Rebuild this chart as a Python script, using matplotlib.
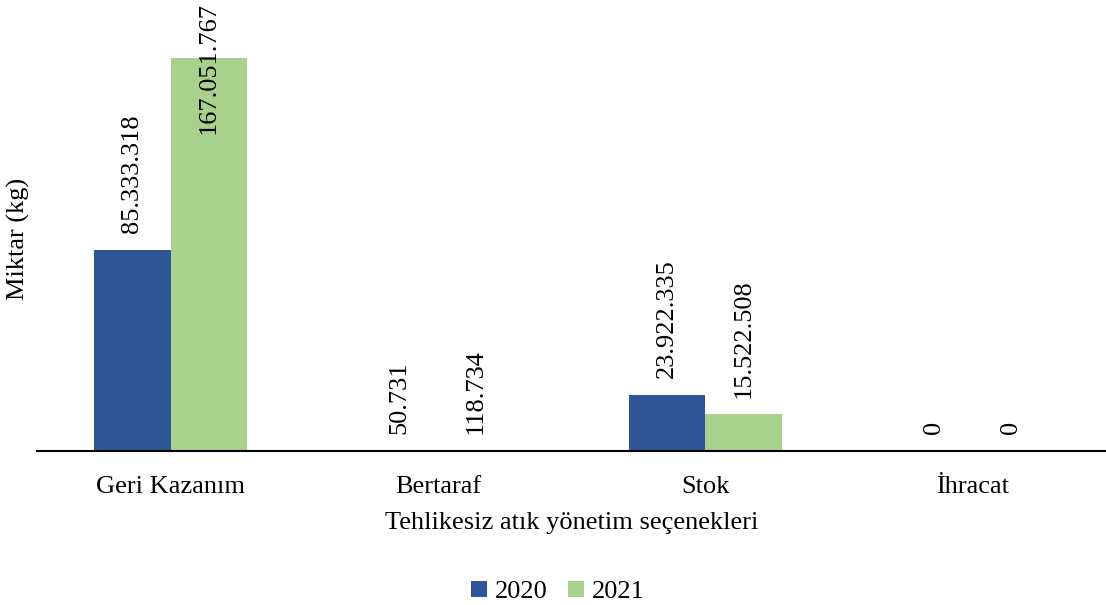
import matplotlib.pyplot as plt
import numpy as np

BLUE  = "#2F5597"
GREEN = "#A9D18E"
BLACK = "#000000"

categories = ["Geri Kazanım", "Bertaraf", "Stok", "İhracat"]
years = ["2020", "2021"]
values_2020 = [85333318, 50731, 23922335, 0]
values_2021 = [167051767, 118734, 15522508, 0]
labels_2020 = ["85.333.318", "50.731", "23.922.335", "0"]
labels_2021 = ["167.051.767", "118.734", "15.522.508", "0"]

plt.rcParams['font.family'] = ['Liberation Serif', 'DejaVu Serif']

W, H = 1106, 605
fig = plt.figure(figsize=(W / 100, H / 100), dpi=100)
fig.patch.set_facecolor("white")
ax = fig.add_axes([37 / W, (H - 451) / H, (W - 37) / W, (451 - 27) / H])

x = np.arange(len(categories))
bw = 0.286
b1 = ax.bar(x - bw / 2, values_2020, bw, color=BLUE, label=years[0])
b2 = ax.bar(x + bw / 2, values_2021, bw, color=GREEN, label=years[1])

ax.set_xlim(-0.5, len(categories) - 0.5)
ax.set_ylim(0, 180e6)
ymax = ax.get_ylim()[1]

fs = 19
for bars, labs in [(b1, labels_2020), (b2, labels_2021)]:
    for rect, lab in zip(bars, labs):
        h = rect.get_height()
        cx = rect.get_x() + rect.get_width() / 2
        if h > 0.9 * ymax:
            # too tall: label sits inside the bar top, like Excel does
            ax.annotate(lab, (cx, 1.058), xycoords=('data', 'axes fraction'),
                        ha='center', va='top', rotation=90, fontsize=fs,
                        color=BLACK, annotation_clip=False)
        else:
            ax.annotate(lab, (cx, h), xytext=(0, 12), textcoords='offset points',
                        ha='center', va='bottom', rotation=90, fontsize=fs,
                        color=BLACK)

ax.set_xticks(x)
ax.set_xticklabels(categories, fontsize=fs)
ax.tick_params(axis='x', length=0, pad=18)
ax.set_yticks([])
for s in ['top', 'right', 'left']:
    ax.spines[s].set_visible(False)
ax.spines['bottom'].set_linewidth(1.5)

ax.set_xlabel("Tehlikesiz atık yönetim seçenekleri", fontsize=fs, labelpad=10)
fig.text(18 / W, 1 - 239 / H, "Miktar (kg)", rotation=90, ha='center',
         va='center', fontsize=fs)

fig.legend(loc='center', bbox_to_anchor=(558 / W, 1 - 592 / H), ncol=2,
           frameon=False, fontsize=fs, handlelength=0.6, handleheight=0.6,
           handletextpad=0.3, columnspacing=0.8)

fig.savefig("out.png", dpi=100, facecolor="white")
